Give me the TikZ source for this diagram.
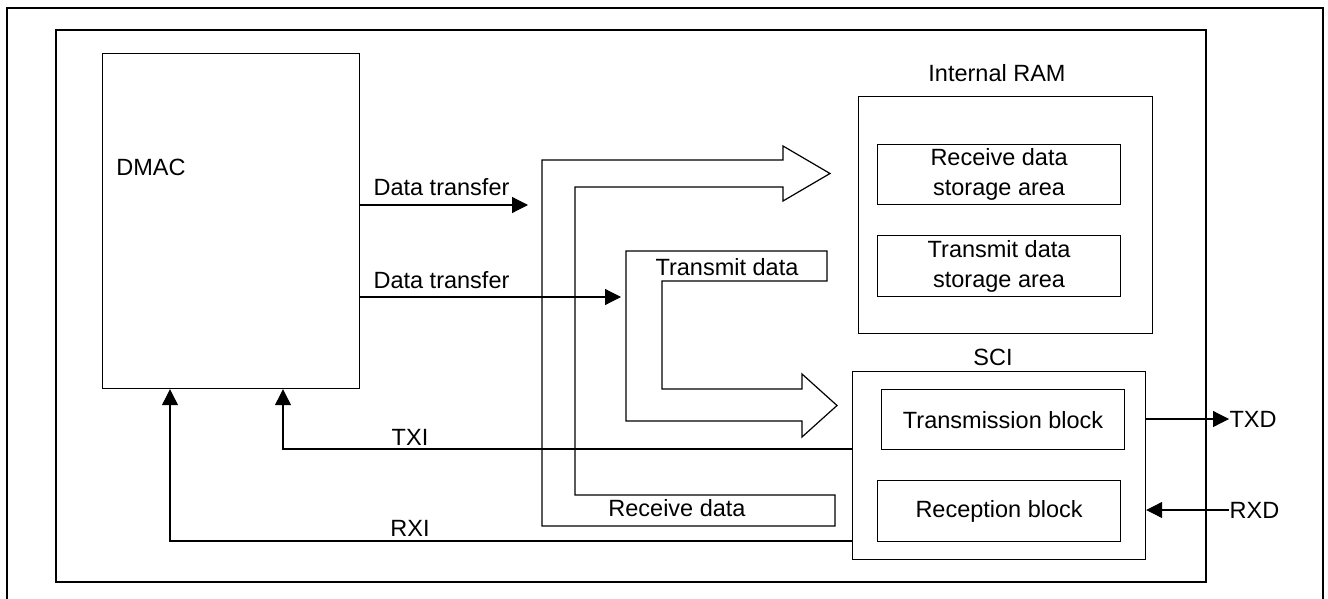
\documentclass[tikz,border=0pt]{standalone}
\usepackage{fontspec}
\setmainfont{Liberation Sans}
\usetikzlibrary{arrows.meta}
\newcommand{\lblfont}{\fontsize{23.5}{30}\selectfont}
\begin{document}
\begin{tikzpicture}[x=1pt,y=-1pt,line width=1.2pt,
  box/.style={draw,anchor=north west,inner sep=0pt,align=center,font=\lblfont},
  lbl/.style={inner sep=0pt,font=\lblfont,align=center},
  arr/.style={-{Triangle[length=16pt,width=16pt]}},
  fat/.style={draw,line join=miter}]
\useasboundingbox (0,0) rectangle (1328,599);
% frames
\draw[line width=1.6pt] (7,600) -- (7,8) -- (1323,8) -- (1323,600);
\draw (56,30) rectangle (1206,582);
% DMAC
\node[box,minimum width=257pt,minimum height=335pt] (dmac) at (102,53) {};
\node[lbl] (dmact) at (151,167) {DMAC};
% Internal RAM
\node[lbl] (ramt) at (997,73) {Internal RAM};
\node[box,minimum width=294pt,minimum height=237pt] (ram) at (858,96) {};
\node[box,minimum width=243pt,minimum height=60pt] (rxs) at (877,144) {Receive data\\storage area};
\node[box,minimum width=243pt,minimum height=61pt] (txs) at (877,235) {Transmit data\\storage area};
% SCI
\node[lbl] (scit) at (993,357) {SCI};
\node[box,minimum width=293pt,minimum height=188pt] (sci) at (852,371) {};
\node[box,minimum width=243pt,minimum height=60pt] (txb) at (881,389) {Transmission block};
\node[box,minimum width=243pt,minimum height=61pt] (rxb) at (877,480) {Reception block};
% fat arrows
\draw[fat] (542,526) -- (542,160) -- (783,160) -- (783,146) -- (830,173.5) -- (783,201) -- (783,187) -- (575,187) -- (575,495) -- (835,495) -- (835,526) -- cycle;
\draw[fat] (626,421) -- (626,251) -- (827,251) -- (827,281) -- (662,281) -- (662,389) -- (802,389) -- (802,374) -- (837,405.5) -- (802,437) -- (802,421) -- cycle;
\node[lbl] (rdt) at (677,508) {Receive data};
\node[lbl] (tdt) at (727,267) {Transmit data};
% data transfer arrows
\coordinate (dt1) at (528,205);
\coordinate (dt2) at (621,297);
\draw[arr] (dmac.east |- dt1) -- (dt1);
\draw[arr] (dmac.east |- dt2) -- (dt2);
\node[lbl,anchor=west] (dtl1) at (373,187) {Data transfer};
\node[lbl,anchor=west] (dtl2) at (373,280) {Data transfer};
% interrupts
\coordinate (txi) at (283,449);
\coordinate (rxi) at (170,541);
\draw[arr] (sci.west |- txi) -- (txi) -- (txi |- dmac.south);
\draw[arr] (sci.west |- rxi) -- (rxi) -- (rxi |- dmac.south);
\node[lbl] (txil) at (410,437) {TXI};
\node[lbl] (rxil) at (410,528) {RXI};
% serial lines
\coordinate (txd) at (1229,419);
\coordinate (rxd) at (1229,510);
\draw[arr] (sci.east |- txd) -- (txd);
\draw[arr] (rxd) -- (sci.east |- rxd);
\node[lbl,anchor=west] (txdl) at (1229,419) {TXD};
\node[lbl,anchor=west] (rxdl) at (1229,510) {RXD};
\end{tikzpicture}
\end{document}
